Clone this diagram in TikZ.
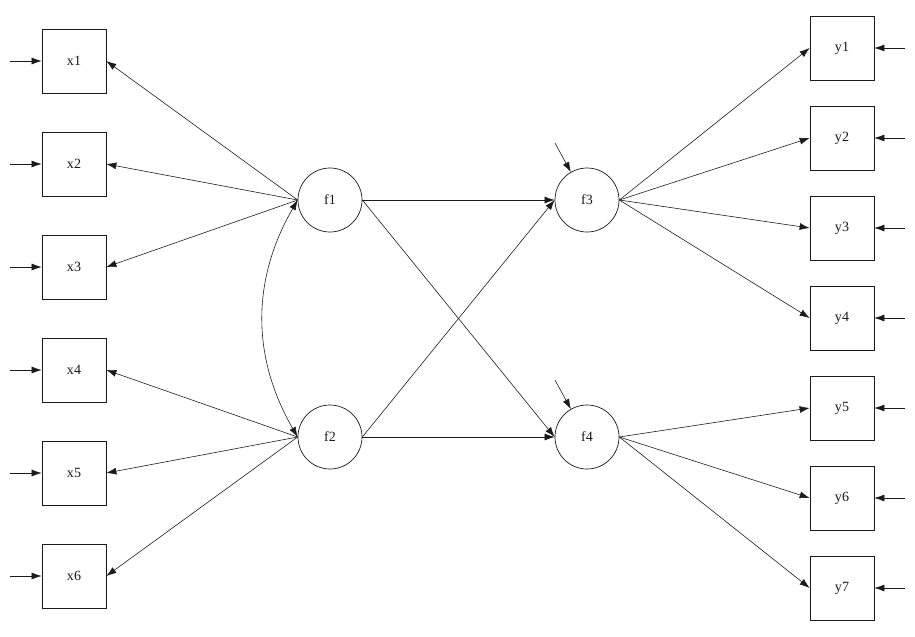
\documentclass[tikz,border=0pt]{standalone}
\usepackage{fontspec}
\setmainfont{Liberation Serif}
\usetikzlibrary{arrows.meta}
\definecolor{ink}{HTML}{1A1A1A}

\begin{document}
\begin{tikzpicture}[
  x=0.03cm, y=-0.03cm,
  font=\fontsize{12}{14}\selectfont,
  text=ink,
  >={Latex[length=3mm,width=2.1mm]},
  observed/.style={
    draw=ink,
    line width=0.6pt,
    minimum width=1.92cm,
    minimum height=1.92cm,
    inner sep=0pt
  },
  latent/.style={
    observed,
    circle,
    minimum size=1.92cm
  },
  path/.style={
    ->,
    draw=ink,
    line width=0.5pt
  }
]
\useasboundingbox[fill=white] (0,0) rectangle (915,636);

% Indicators of f1 and f2
\node[observed] (x1) at (74,61)  {x1};
\node[observed] (x2) at (74,164) {x2};
\node[observed] (x3) at (74,267) {x3};
\node[observed] (x4) at (74,370) {x4};
\node[observed] (x5) at (74,473) {x5};
\node[observed] (x6) at (74,576) {x6};

% Indicators of f3 and f4
\node[observed] (y1) at (842,48)  {y1};
\node[observed] (y2) at (842,138) {y2};
\node[observed] (y3) at (842,228) {y3};
\node[observed] (y4) at (842,318) {y4};
\node[observed] (y5) at (842,408) {y5};
\node[observed] (y6) at (842,498) {y6};
\node[observed] (y7) at (842,588) {y7};

% Latent factors
\node[latent] (f1) at (330,200) {f1};
\node[latent] (f2) at (330,437) {f2};
\node[latent] (f3) at (587,200) {f3};
\node[latent] (f4) at (587,437) {f4};

% Free ends of the error terms
\coordinate (ex1) at (10,61);  \coordinate (ex2) at (10,164);
\coordinate (ex3) at (10,267); \coordinate (ex4) at (10,370);
\coordinate (ex5) at (10,473); \coordinate (ex6) at (10,576);
\coordinate (ey1) at (905,48);  \coordinate (ey2) at (905,138);
\coordinate (ey3) at (905,228); \coordinate (ey4) at (905,318);
\coordinate (ey5) at (905,408); \coordinate (ey6) at (905,498);
\coordinate (ey7) at (905,588);
\coordinate (ef3) at (555,143); \coordinate (ef4) at (555,380);

% Measurement model
\draw[path] (f1.west) -- (x1.east);
\draw[path] (f1.west) -- (x2.east);
\draw[path] (f1.west) -- (x3.east);
\draw[path] (f2.west) -- (x4.east);
\draw[path] (f2.west) -- (x5.east);
\draw[path] (f2.west) -- (x6.east);
\draw[path] (f3.east) -- (y1.west);
\draw[path] (f3.east) -- (y2.west);
\draw[path] (f3.east) -- (y3.west);
\draw[path] (f3.east) -- (y4.west);
\draw[path] (f4.east) -- (y5.west);
\draw[path] (f4.east) -- (y6.west);
\draw[path] (f4.east) -- (y7.west);

% Structural paths and the covariance of f1 and f2
\draw[path] (f1.east) -- (f3.west);
\draw[path] (f1.east) -- (f4.west);
\draw[path] (f2.east) -- (f3.west);
\draw[path] (f2.east) -- (f4.west);
\draw[path,<->] (f1.west) to[bend right=30] (f2.west);

% Error terms
\draw[path] (ex1) -- (x1.west);
\draw[path] (ex2) -- (x2.west);
\draw[path] (ex3) -- (x3.west);
\draw[path] (ex4) -- (x4.west);
\draw[path] (ex5) -- (x5.west);
\draw[path] (ex6) -- (x6.west);
\draw[path] (ey1) -- (y1.east);
\draw[path] (ey2) -- (y2.east);
\draw[path] (ey3) -- (y3.east);
\draw[path] (ey4) -- (y4.east);
\draw[path] (ey5) -- (y5.east);
\draw[path] (ey6) -- (y6.east);
\draw[path] (ey7) -- (y7.east);
\draw[path] (ef3) -- (f3.120);
\draw[path] (ef4) -- (f4.120);

\end{tikzpicture}
\end{document}
